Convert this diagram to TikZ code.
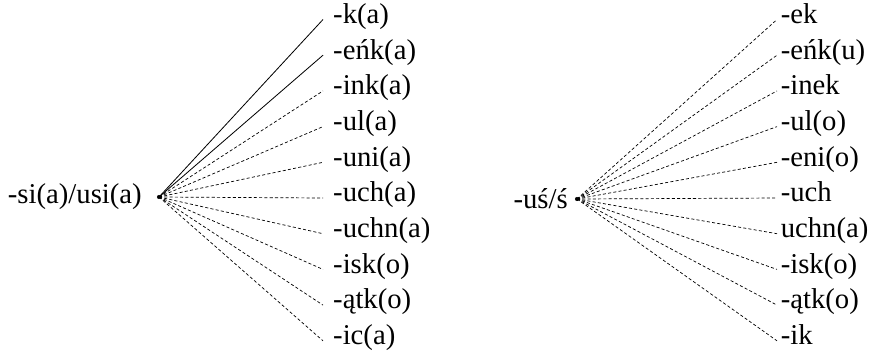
\documentclass[tikz,border=0pt]{standalone}
\usepackage{fontspec}
\setmainfont{Liberation Serif}
\usepackage{tikz}
\usetikzlibrary{positioning}

\begin{document}
\begin{tikzpicture}[x=0.03cm,y=-0.03cm,
          suf/.style={anchor=west,inner ysep=0pt,inner xsep=8.5pt,
                      text height=0.85em,text depth=0.2em,
                      font=\fontsize{24.5}{28}\selectfont},
          sufr/.style={suf,inner xsep=3pt},
          rootlab/.style={anchor=east,inner sep=0pt,
                          font=\fontsize{24.5}{28}\selectfont},
          rootdot/.style={circle,fill=black,inner sep=0pt,minimum size=3.5pt},
          link/.style={line width=0.7pt},
          dlink/.style={line width=0.6pt,dash pattern=on 2.6pt off 1.9pt}]
        \useasboundingbox (0,0) rectangle (874,351);
        % left group
        \node[rootdot] (si) at (159,197) {};
        \node[rootlab] (silab) at (142,196.5) {-si(a)/usi(a)};
        \node[suf] (s1) at (323,19.5)  {-k(a)};
        \node[suf] (s2) at (323,55.2)  {-eńk(a)};
        \node[suf] (s3) at (323,90.9)  {-ink(a)};
        \node[suf] (s4) at (323,126.6) {-ul(a)};
        \node[suf] (s5) at (323,162.3) {-uni(a)};
        \node[suf] (s6) at (323,198)   {-uch(a)};
        \node[suf] (s7) at (323,233.7) {-uchn(a)};
        \node[suf] (s8) at (323,269.4) {-isk(o)};
        \node[suf] (s9) at (323,305.1) {-ątk(o)};
        \node[suf] (s10) at (323,340.8) {-ic(a)};
        \draw[link] (si.center) -- (s1.west);
        \draw[link] (si.center) -- (s2.west);
        \draw[dlink] (si.center) -- (s3.west);
        \draw[dlink] (si.center) -- (s4.west);
        \draw[dlink] (si.center) -- (s5.west);
        \draw[dlink] (si.center) -- (s6.west);
        \draw[dlink] (si.center) -- (s7.west);
        \draw[dlink] (si.center) -- (s8.west);
        \draw[dlink] (si.center) -- (s9.west);
        \draw[dlink] (si.center) -- (s10.west);
        % right group
        \node[rootdot] (us) at (577,199) {};
        \node[rootlab] (uslab) at (568,198.5) {-uś/ś};
        \node[sufr] (t1) at (777,19.5)  {-ek};
        \node[sufr] (t2) at (777,55.2)  {-eńk(u)};
        \node[sufr] (t3) at (777,90.9)  {-inek};
        \node[sufr] (t4) at (777,126.6) {-ul(o)};
        \node[sufr] (t5) at (777,162.3) {-eni(o)};
        \node[sufr] (t6) at (777,198)   {-uch};
        \node[sufr] (t7) at (777,233.7) {uchn(a)};
        \node[sufr] (t8) at (777,269.4) {-isk(o)};
        \node[sufr] (t9) at (777,305.1) {-ątk(o)};
        \node[sufr] (t10) at (777,340.8) {-ik};
        \draw[dlink] (us.center) -- (t1.west);
        \draw[dlink] (us.center) -- (t2.west);
        \draw[dlink] (us.center) -- (t3.west);
        \draw[dlink] (us.center) -- (t4.west);
        \draw[dlink] (us.center) -- (t5.west);
        \draw[dlink] (us.center) -- (t6.west);
        \draw[dlink] (us.center) -- (t7.west);
        \draw[dlink] (us.center) -- (t8.west);
        \draw[dlink] (us.center) -- (t9.west);
        \draw[dlink] (us.center) -- (t10.west);
      \end{tikzpicture}
\end{document}
